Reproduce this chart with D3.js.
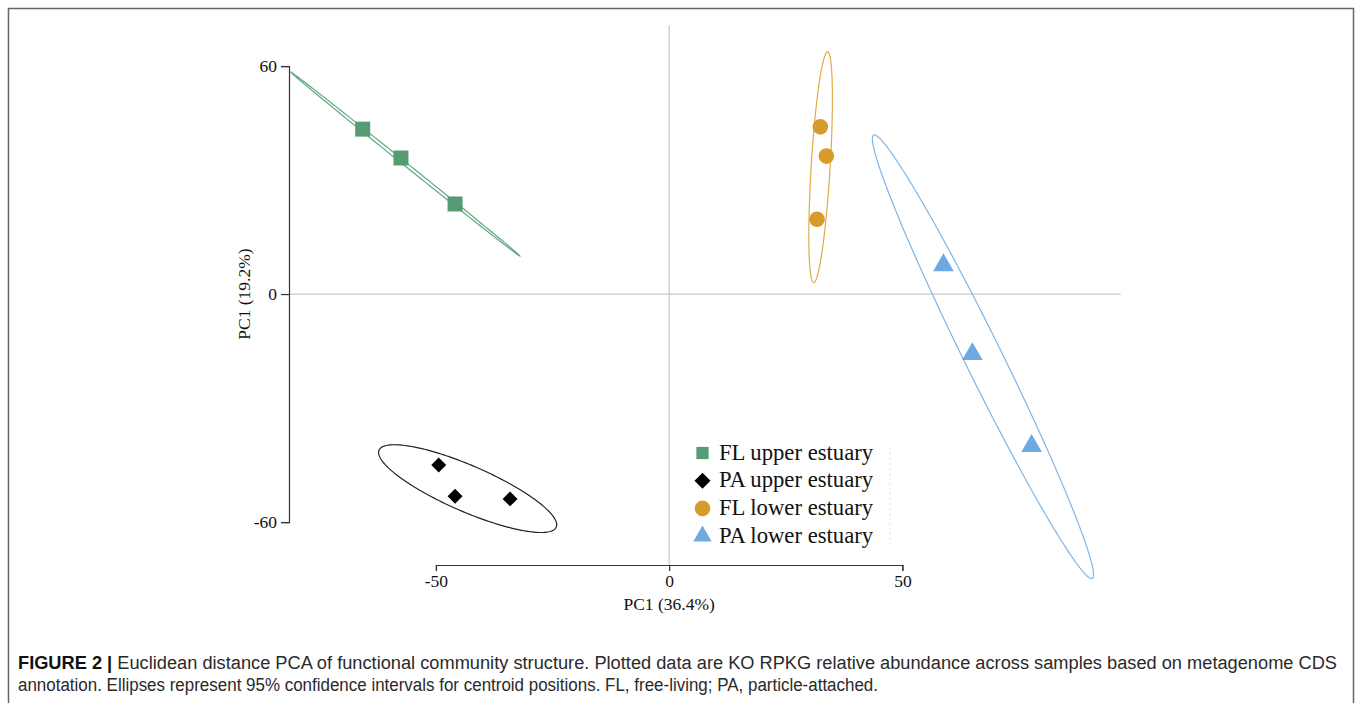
<!DOCTYPE html>
<html>
<head>
<meta charset="utf-8">
<script src="https://cdn.jsdelivr.net/npm/d3@7"></script>
<style>
  html, body { margin: 0; padding: 0; background: #fff; }
  svg { display: block; }
</style>
</head>
<body>
<svg id="chart" width="1357" height="703"></svg>
<script>
// ---------------- data ----------------
const groups = ["FL upper estuary", "PA upper estuary", "FL lower estuary", "PA lower estuary"];
const pc1Values = [
  [-65.7, -57.5, -45.9],
  [-49.4, -45.9, -34.1],
  [32.4, 33.7, 31.7],
  [58.8, 65.0, 77.7]
];
const pc2Values = [
  [43.4, 35.8, 23.7],
  [-45.0, -53.2, -53.9],
  [44.0, 36.3, 19.7],
  [7.6, -15.8, -40.0]
];
// 95% confidence ellipses: centre, semi-axis vectors (data units)
const ellipseCenterX = [-56.55, -43.2, 32.47, 67.27];
const ellipseCenterY = [34.2, -51.2, 33.37, -16.5];
const ellipseMajorX = [24.57, 18.99, 1.50, 23.43];
const ellipseMajorY = [-24.21, -10.13, 30.39, -58.34];
const ellipseMinorX = [-0.23, -1.97, 2.03, -3.60];
const ellipseMinorY = [-0.35, -5.55, -0.15, -2.18];

const xTicks = [-50, 0, 50];
const yTicks = [-60, 0, 60];
const xTitle = "PC1 (36.4%)";
const yTitle = "PC1 (19.2%)";
const captionBold = "FIGURE 2 |";
const captionLine1 = " Euclidean distance PCA of functional community structure. Plotted data are KO RPKG relative abundance across samples based on metagenome CDS";
const captionLine2 = "annotation. Ellipses represent 95% confidence intervals for centroid positions. FL, free-living; PA, particle-attached.";

// ---------------- styles ----------------
const fillColors = ["#559B73", "#000000", "#D59B2B", "#6FA9E1"];
const strokeColors = ["#62A882", "#222222", "#E2AB45", "#7DB6EA"];
const symbolTypes = [d3.symbolSquare, d3.symbolSquare, d3.symbolCircle, d3.symbolTriangle];
const symbolRot = [0, 45, 0, 0];
const pointSizes = [225, 112, 191, 185];
const legendSizes = [150, 128, 191, 145];

const svg = d3.select("#chart");

// frame
svg.append("rect").attr("x", 8.5).attr("y", 8.5).attr("width", 1345).attr("height", 720)
  .attr("fill", "none").attr("stroke", "#666").attr("stroke-width", 1.5);

// scales (plot region like base R)
const x = d3.scaleLinear().domain([-81.5, 96.8]).range([289, 1120.7]);
const y = d3.scaleLinear().domain([-71.3, 70.8]).range([565, 25]);

const serif = "'Liberation Serif', 'Times New Roman', serif";

// zero reference lines
svg.append("line").attr("x1", x.range()[0]).attr("x2", x.range()[1])
  .attr("y1", y(0)).attr("y2", y(0)).attr("stroke", "#c9c9c9").attr("stroke-width", 1.2);
svg.append("line").attr("x1", x(0)).attr("x2", x(0))
  .attr("y1", y.range()[0]).attr("y2", y.range()[1]).attr("stroke", "#c9c9c9").attr("stroke-width", 1.2);

// axes: drawn only across tick span (R style)
const xAxisScale = d3.scaleLinear().domain([xTicks[0], xTicks[xTicks.length - 1]])
  .range([x(xTicks[0]), x(xTicks[xTicks.length - 1])]);
const yAxisScale = d3.scaleLinear().domain([yTicks[0], yTicks[yTicks.length - 1]])
  .range([y(yTicks[0]), y(yTicks[yTicks.length - 1])]);
const fmt = d => String(d);

const gx = svg.append("g").attr("transform", `translate(0,${y.range()[0]})`)
  .call(d3.axisBottom(xAxisScale).tickValues(xTicks).tickSize(6).tickPadding(4).tickFormat(fmt));
const gy = svg.append("g").attr("transform", `translate(${x.range()[0]},0)`)
  .call(d3.axisLeft(yAxisScale).tickValues(yTicks).tickSize(8).tickPadding(4).tickFormat(fmt));
[gx, gy].forEach(g => {
  g.select(".domain").attr("stroke", "#333").attr("stroke-width", 1.2);
  g.selectAll(".tick line").attr("stroke", "#333").attr("stroke-width", 1.2);
  g.selectAll(".tick text").attr("fill", "#111").style("font-family", serif).style("font-size", "17.5px");
});

// axis titles
svg.append("text").attr("x", x(0)).attr("y", 610).attr("text-anchor", "middle")
  .style("font-family", serif).style("font-size", "17.5px").attr("fill", "#111").text(xTitle);
svg.append("text").attr("transform", `translate(250,${y(0)}) rotate(-90)`).attr("text-anchor", "middle")
  .style("font-family", serif).style("font-size", "17.5px").attr("fill", "#111").text(yTitle);

// ellipses
const line = d3.line().x(d => x(d[0])).y(d => y(d[1])).curve(d3.curveLinearClosed);
groups.forEach((gName, i) => {
  const pts = d3.range(0, 200).map(k => {
    const t = k / 200 * 2 * Math.PI;
    return [
      ellipseCenterX[i] + ellipseMajorX[i] * Math.cos(t) + ellipseMinorX[i] * Math.sin(t),
      ellipseCenterY[i] + ellipseMajorY[i] * Math.cos(t) + ellipseMinorY[i] * Math.sin(t)
    ];
  });
  svg.append("path").attr("d", line(pts)).attr("fill", "none")
    .attr("stroke", strokeColors[i]).attr("stroke-width", 1.2);
});

// points
groups.forEach((gName, i) => {
  const sym = d3.symbol().type(symbolTypes[i]).size(pointSizes[i]);
  svg.append("g").selectAll("path").data(pc1Values[i].map((v, j) => [v, pc2Values[i][j]]))
    .join("path")
    .attr("d", sym)
    .attr("transform", d => `translate(${x(d[0])},${y(d[1])}) rotate(${symbolRot[i]})`)
    .attr("fill", fillColors[i]);
});

// legend
const legend = svg.append("g");
const legendX = 702.5, legendY0 = 453, legendStep = 27.7;
groups.forEach((gName, i) => {
  const cy = legendY0 + i * legendStep;
  legend.append("path")
    .attr("d", d3.symbol().type(symbolTypes[i]).size(legendSizes[i]))
    .attr("transform", `translate(${legendX},${cy}) rotate(${symbolRot[i]})`)
    .attr("fill", fillColors[i]);
  legend.append("text").attr("x", 719).attr("y", cy + 6.5)
    .style("font-family", serif).style("font-size", "22.7px").attr("fill", "#111").text(gName);
});
legend.append("line").attr("x1", 890).attr("x2", 890).attr("y1", 448).attr("y2", 546)
  .attr("stroke", "#e2e2e2").attr("stroke-width", 1).attr("stroke-dasharray", "2,3");

// caption
const sans = "'Liberation Sans', Arial, Helvetica, sans-serif";
const c1 = svg.append("text").attr("x", 18).attr("y", 669)
  .style("font-family", sans).style("font-size", "18px").attr("fill", "#2a2a2a")
  .attr("textLength", 1319).attr("lengthAdjust", "spacingAndGlyphs");
c1.append("tspan").style("font-weight", "bold").attr("fill", "#111").text(captionBold);
c1.append("tspan").text(captionLine1);
svg.append("text").attr("x", 18).attr("y", 691)
  .style("font-family", sans).style("font-size", "18px").attr("fill", "#2a2a2a")
  .attr("textLength", 860).attr("lengthAdjust", "spacingAndGlyphs")
  .text(captionLine2);
</script>
</body>
</html>
